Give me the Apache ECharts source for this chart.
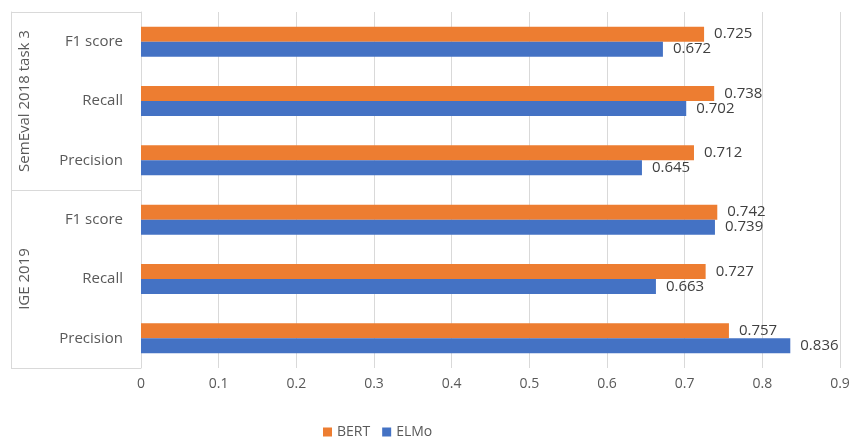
<!DOCTYPE html>
<html>
<head>
<meta charset="utf-8">
<script src="https://cdn.jsdelivr.net/npm/echarts@6/dist/echarts.min.js"></script>
<style>
  html, body { margin: 0; padding: 0; background: #fff; }
  #chart { width: 858px; height: 445px; }
</style>
</head>
<body>
<div id="chart"></div>
<script>
// categories listed bottom to top (ECharts category y axis starts at the bottom)
const metrics = ['Precision', 'Recall', 'F1 score', 'Precision', 'Recall', 'F1 score'];
const datasets = ['IGE 2019', 'SemEval 2018 task 3'];
const bertValues = [0.757, 0.727, 0.742, 0.712, 0.738, 0.725];
const elmoValues = [0.836, 0.663, 0.739, 0.645, 0.702, 0.672];

const textColor = '#595959';
const lineColor = '#d9d9d9';
const font = 'Open Sans';

let myChart = echarts.init(document.getElementById('chart'));

let labelStyle = {
  show: true,
  position: 'right',
  distance: 10,
  color: '#404040',
  fontFamily: font,
  fontSize: 15,
  formatter: function (p) {
    return p.value.toFixed(3);
  }
};

let option = {
  animation: false,
  textStyle: { fontFamily: font },
  legend: {
    data: ['BERT', 'ELMo'],
    left: 318,
    bottom: 1,
    itemWidth: 9,
    itemHeight: 9,
    itemGap: 12,
    icon: 'rect',
    textStyle: { color: textColor, fontSize: 14, fontFamily: font }
  },
  grid: {
    left: 141,
    right: 18,
    top: 12,
    bottom: 77,
    containLabel: false
  },
  xAxis: {
    type: 'value',
    min: 0,
    max: 0.9,
    interval: 0.1,
    axisLine: { show: false },
    axisTick: { show: false },
    splitLine: { lineStyle: { color: lineColor } },
    axisLabel: { color: textColor, fontSize: 14, margin: 9 }
  },
  yAxis: [
    {
      type: 'category',
      data: metrics,
      axisLine: { show: true, lineStyle: { color: lineColor } },
      axisTick: { show: false },
      axisLabel: { color: textColor, fontSize: 15, margin: 18 }
    },
    {
      type: 'category',
      data: datasets,
      position: 'left',
      offset: 130,
      axisLine: { show: true, lineStyle: { color: lineColor } },
      axisTick: { show: true, inside: true, interval: 0, length: 130, lineStyle: { color: lineColor } },
      axisLabel: { inside: true, interval: 0, rotate: 90, margin: 6, color: textColor, fontSize: 15 }
    }
  ],
  series: [
    {
      name: 'BERT',
      type: 'bar',
      yAxisIndex: 0,
      data: bertValues,
      barWidth: 15,
      barGap: '0%',
      itemStyle: { color: '#ED7D31' },
      label: labelStyle
    },
    {
      name: 'ELMo',
      type: 'bar',
      yAxisIndex: 0,
      data: elmoValues,
      barWidth: 15,
      barGap: '0%',
      itemStyle: { color: '#4472C4' },
      label: labelStyle
    }
  ]
};

myChart.setOption(option);
</script>
</body>
</html>
